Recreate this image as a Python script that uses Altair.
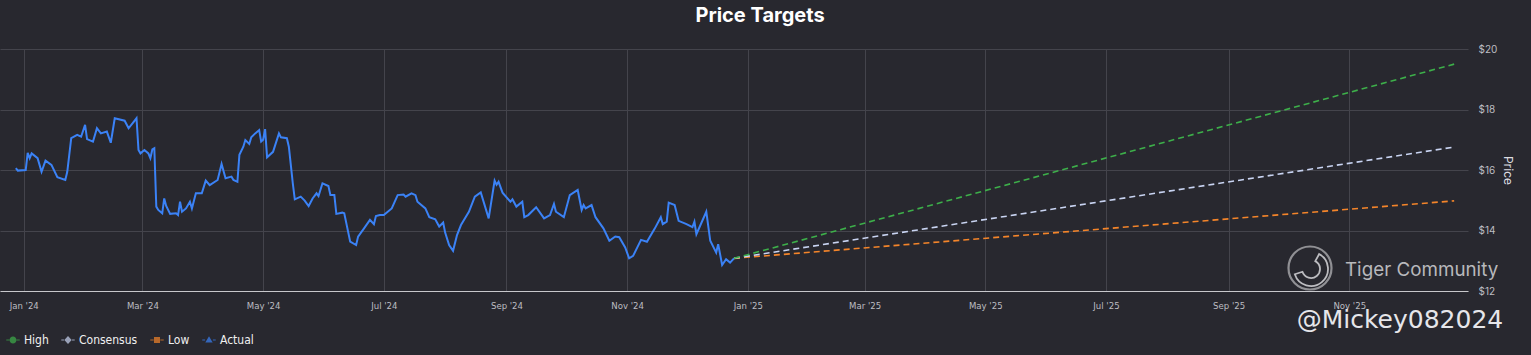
import altair as alt
import pandas as pd

# ---------------- data ----------------
actual_dates = [
    "2023-12-28", "2023-12-29", "2024-01-02", "2024-01-03", "2024-01-04", "2024-01-05",
    "2024-01-08", "2024-01-10", "2024-01-12", "2024-01-15", "2024-01-18", "2024-01-22",
    "2024-01-23", "2024-01-25", "2024-01-28", "2024-01-30", "2024-02-01", "2024-02-02",
    "2024-02-05", "2024-02-07", "2024-02-09", "2024-02-12", "2024-02-14", "2024-02-16",
    "2024-02-21", "2024-02-23", "2024-02-27", "2024-02-28", "2024-02-29", "2024-03-02",
    "2024-03-04", "2024-03-05", "2024-03-06", "2024-03-07", "2024-03-08", "2024-03-09",
    "2024-03-11", "2024-03-12", "2024-03-13", "2024-03-15", "2024-03-18", "2024-03-19",
    "2024-03-20", "2024-03-21", "2024-03-23", "2024-03-25", "2024-03-26", "2024-03-28",
    "2024-03-31", "2024-04-02", "2024-04-04", "2024-04-08", "2024-04-10", "2024-04-12",
    "2024-04-15", "2024-04-16", "2024-04-18", "2024-04-19", "2024-04-21", "2024-04-22",
    "2024-04-24", "2024-04-25", "2024-04-27", "2024-04-29", "2024-04-30", "2024-05-01",
    "2024-05-02", "2024-05-03", "2024-05-06", "2024-05-09", "2024-05-10", "2024-05-13",
    "2024-05-14", "2024-05-16", "2024-05-17", "2024-05-20", "2024-05-22", "2024-05-24",
    "2024-05-26", "2024-05-28", "2024-05-29", "2024-05-31", "2024-06-03", "2024-06-04",
    "2024-06-06", "2024-06-07", "2024-06-10", "2024-06-11", "2024-06-14", "2024-06-17",
    "2024-06-18", "2024-06-21", "2024-06-24", "2024-06-26", "2024-06-27", "2024-06-29",
    "2024-07-01", "2024-07-05", "2024-07-08", "2024-07-11", "2024-07-12", "2024-07-15",
    "2024-07-17", "2024-07-18", "2024-07-22", "2024-07-24", "2024-07-27", "2024-07-29",
    "2024-07-31", "2024-08-01", "2024-08-03", "2024-08-05", "2024-08-07", "2024-08-09",
    "2024-08-13", "2024-08-16", "2024-08-19", "2024-08-23", "2024-08-26", "2024-08-27",
    "2024-08-28", "2024-08-30", "2024-09-03", "2024-09-04", "2024-09-06", "2024-09-09",
    "2024-09-10", "2024-09-12", "2024-09-16", "2024-09-20", "2024-09-23", "2024-09-25",
    "2024-09-26", "2024-09-30", "2024-10-03", "2024-10-07", "2024-10-09", "2024-10-10",
    "2024-10-11", "2024-10-14", "2024-10-16", "2024-10-20", "2024-10-23", "2024-10-26",
    "2024-10-28", "2024-10-31", "2024-11-02", "2024-11-04", "2024-11-08", "2024-11-11",
    "2024-11-15", "2024-11-18", "2024-11-19", "2024-11-21", "2024-11-22", "2024-11-25",
    "2024-11-27", "2024-12-01", "2024-12-04", "2024-12-05", "2024-12-06", "2024-12-11",
    "2024-12-13", "2024-12-16", "2024-12-17", "2024-12-19", "2024-12-21", "2024-12-23",
    "2024-12-25",
]
actual_prices = [
    16.06, 15.98, 16.00, 16.57, 16.39, 16.55,
    16.39, 15.94, 16.31, 16.17, 15.76, 15.67,
    15.94, 17.05, 17.16, 17.10, 17.49, 17.02,
    16.94, 17.38, 17.21, 17.27, 16.90, 17.71,
    17.63, 17.38, 17.71, 16.66, 16.55, 16.66,
    16.55, 16.39, 16.68, 16.72, 14.79, 14.68,
    14.57, 15.06, 14.81, 14.55, 14.57, 14.51,
    14.95, 14.62, 14.73, 14.95, 14.73, 15.23,
    15.23, 15.65, 15.50, 15.67, 16.20, 15.73,
    15.78, 15.67, 15.61, 16.50, 16.77, 16.99,
    16.86, 17.08, 17.21, 17.32, 16.94, 17.00,
    17.35, 16.42, 16.60, 17.21, 17.08, 17.05,
    16.77, 15.56, 15.03, 15.12, 14.99, 14.81,
    15.06, 15.23, 15.14, 15.56, 15.47, 15.17,
    15.17, 14.55, 14.59, 14.57, 13.63, 13.52,
    13.80, 14.07, 14.35, 14.21, 14.48, 14.51,
    14.51, 14.73, 15.17, 15.19, 15.12, 15.23,
    15.17, 14.95, 14.73, 14.44, 14.37, 14.13,
    14.26, 13.93, 13.52, 13.33, 13.85, 14.18,
    14.62, 15.12, 15.26, 14.40, 15.65, 15.51,
    15.61, 15.25, 14.95, 15.03, 14.79, 14.95,
    14.44, 14.51, 14.77, 14.40, 14.51, 14.88,
    14.62, 14.44, 15.17, 15.34, 14.68, 14.84,
    14.73, 14.84, 14.44, 14.07, 13.66, 13.80,
    13.78, 13.44, 13.08, 13.16, 13.69, 13.63,
    14.07, 14.44, 14.21, 14.29, 14.92, 14.84,
    14.32, 14.21, 14.11, 14.29, 13.88, 14.62,
    13.66, 13.27, 13.55, 12.86, 13.05, 12.94,
    13.08,
]

forecast_dates = ["2024-12-25", "2025-12-24"]
high_values = [13.08, 19.50]
consensus_values = [13.08, 16.76]
low_values = [13.08, 14.98]

series_names = ["High", "Consensus", "Low", "Actual"]
series_colors = ["#3daf4a", "#c9d4f2", "#f5852a", "#3b82f6"]

tick_dates = ["2024-01-01", "2024-03-01", "2024-05-01", "2024-07-01", "2024-09-01",
              "2024-11-01", "2025-01-01", "2025-03-01", "2025-05-01", "2025-07-01",
              "2025-09-01", "2025-11-01"]
price_ticks = [12, 14, 16, 18, 20]
x_domain = ["2023-12-20", "2025-12-31"]
y_domain = [12, 20]

# ---------------- build tables ----------------
actual_df = pd.DataFrame({"date": actual_dates, "price": actual_prices})
forecast_values = {"High": high_values, "Consensus": consensus_values, "Low": low_values}
legend_df = pd.DataFrame({"date": [forecast_dates[0]] * 4, "price": [low_values[0]] * 4,
                          "series": series_names})
color_of = dict(zip(series_names, series_colors))


def to_dt(s):
    y, m, d = (int(p) for p in s.split("-"))
    return alt.DateTime(year=y, month=m, date=d, utc=True)


BG = "#28282f"
GRID = "#44444c"
LABEL = "#bdbdc2"
NARROW = "DejaVu Sans Condensed, Liberation Sans Narrow, Roboto Condensed, Roboto, sans-serif"

x_scale = alt.Scale(type="utc", domain=[to_dt(s) for s in x_domain])
y_scale = alt.Scale(domain=y_domain, nice=False, zero=False)

x_axis = alt.Axis(values=[to_dt(s) for s in tick_dates],
                  labelExpr="utcFormat(datum.value, \"%b '%y\")",
                  labelColor=LABEL, labelFontSize=9.5, labelFont=NARROW, ticks=False,
                  domainColor="#c8c8cc", domainWidth=1, gridColor=GRID, gridWidth=1,
                  labelPadding=9, title=None)
y_axis = alt.Axis(orient="right", values=price_ticks, format="$.0f", labelColor=LABEL,
                  labelFontSize=10, labelFont="Inter, sans-serif", labelPadding=10,
                  domain=False, ticks=False, gridColor=GRID, gridWidth=1,
                  title="Price", titleColor="#dcdce0", titleFontSize=12,
                  titleFontWeight="normal", titleFont="Inter, sans-serif",
                  titleAngle=90, titlePadding=4)

shape_paths = [
    # line + circle
    "M-1,-0.09H-0.55V0.09H-1Z M0.55,-0.09H1V0.09H0.55Z "
    "M0.52,0A0.52,0.52 0 1,1 -0.52,0A0.52,0.52 0 1,1 0.52,0Z",
    # line + diamond
    "M-1,-0.09H-0.6V0.09H-1Z M0.6,-0.09H1V0.09H0.6Z M0,-0.58L0.55,0L0,0.58L-0.55,0Z",
    # line + square
    "M-1,-0.09H-0.5V0.09H-1Z M0.5,-0.09H1V0.09H0.5Z M-0.45,-0.45H0.45V0.45H-0.45Z",
    # line + triangle
    "M-1,-0.09H-0.58V0.09H-1Z M0.58,-0.09H1V0.09H0.58Z M0,-0.55L0.55,0.38H-0.55Z",
]

x_enc = alt.X("date:T", scale=x_scale, axis=x_axis)
y_enc = alt.Y("price:Q", scale=y_scale, axis=y_axis)

legend = alt.Legend(orient="none", direction="horizontal", legendX=6, legendY=284,
                    labelColor="#f0f0f0", labelFontSize=12, labelFont=NARROW,
                    symbolSize=180, symbolStrokeWidth=0, title=None,
                    columnPadding=12, labelOffset=4)

legend_points = alt.Chart(legend_df).mark_point(filled=True, size=0).encode(
    x=x_enc, y=y_enc,
    color=alt.Color("series:N", scale=alt.Scale(domain=series_names, range=series_colors),
                    legend=legend),
    shape=alt.Shape("series:N", scale=alt.Scale(domain=series_names, range=shape_paths),
                    legend=legend),
)

actual_line = alt.Chart(actual_df).mark_line(
    strokeWidth=2, clip=True, color=color_of["Actual"]).encode(x=x_enc, y=y_enc)

fc_layers = []
for name in ["Low", "Consensus", "High"]:
    df = pd.DataFrame({"date": forecast_dates, "price": forecast_values[name]})
    fc_layers.append(
        alt.Chart(df).mark_line(strokeWidth=1.6, strokeDash=[6, 4], clip=True,
                                color=color_of[name]).encode(x=x_enc, y=y_enc)
    )

wm_df = pd.DataFrame({"k": [0]})
logo_circle = alt.Chart(wm_df).mark_point(shape="circle", size=1850, filled=False,
                                          stroke="#bcbcc0", strokeWidth=2.2).encode(
    x=alt.value(1310), y=alt.value(219))
logo_arc = alt.Chart(wm_df).mark_arc(radius=17, radius2=9, theta=0.5, theta2=4.4,
                                     fill=BG, stroke="#bcbcc0", strokeWidth=1.8).encode(
    x=alt.value(1311), y=alt.value(220))
wm_tiger = alt.Chart(wm_df).mark_text(text="Tiger Community", align="left", baseline="middle",
                                      fontSize=18.8, font="Inter, sans-serif",
                                      color="#b8b8bc").encode(
    x=alt.value(1345), y=alt.value(221))
wm_user = alt.Chart(wm_df).mark_text(text="@Mickey082024", align="center", baseline="middle",
                                     fontSize=25, font="DejaVu Sans, sans-serif",
                                     color="#e6e6ea").encode(
    x=alt.value(1400), y=alt.value(271))

chart = alt.layer(
    legend_points, actual_line, *fc_layers, logo_circle, logo_arc, wm_tiger, wm_user
).properties(
    width=1468, height=242,
    title=alt.Title("Price Targets", color="#ffffff", fontSize=20, font="Inter, sans-serif",
                    fontWeight="bold", anchor="middle", offset=18, dx=26),
    background=BG,
    padding={"left": 0, "top": 49, "right": 63, "bottom": 64},
    autosize=alt.AutoSizeParams(type="none"),
).configure_view(stroke=None)

chart.save("out.html", embed_options={"renderer": "svg", "actions": False})
